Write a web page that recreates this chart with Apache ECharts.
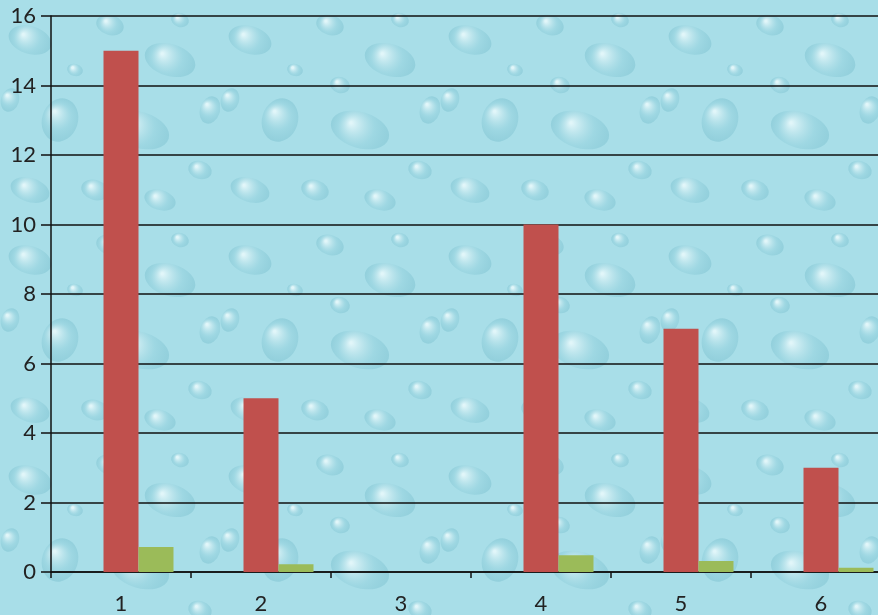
<!DOCTYPE html>
<html><head><meta charset="utf-8">
<script src="https://cdn.jsdelivr.net/npm/echarts@6/dist/echarts.min.js"></script>
<style>html,body{margin:0;padding:0;overflow:hidden;width:878px;height:615px;}#c{width:900px;height:615px;}</style>
</head><body><div id="c"></div>
<script>
const categories = ['1','2','3','4','5','6'];
const seriesBlue = [0,0,0,0,0,0];
const seriesRed = [15,5,0,10,7,3];
const seriesGreen = [0.72,0.22,0,0.48,0.32,0.12];
const yTicks = {min:0, max:16, interval:2};

// decorative water-drop texture
function makeTexture(){
  const cv = document.createElement('canvas');
  cv.width = 220; cv.height = 220;
  const g = cv.getContext('2d');
  g.fillStyle = '#a8dee8'; g.fillRect(0,0,220,220);
  const drops = [[30,40,22,14],[110,25,14,10],[170,60,26,16],[60,120,18,22],[140,130,30,18],[200,170,12,9],[30,190,20,12],[95,190,14,10],[180,20,9,7],[75,70,8,6],[120,85,10,8],[10,100,9,12],[160,200,16,10],[210,110,10,14]];
  drops.forEach(d=>{
    const [x,y,rx,ry]=d;
    const gr = g.createRadialGradient(x-rx*0.3,y-ry*0.4,1,x,y,Math.max(rx,ry));
    gr.addColorStop(0,'rgba(235,250,252,0.85)');
    gr.addColorStop(0.6,'rgba(150,210,222,0.55)');
    gr.addColorStop(1,'rgba(120,190,205,0.45)');
    g.fillStyle = gr;
    g.beginPath(); g.ellipse(x,y,rx,ry,0.3,0,Math.PI*2); g.fill();
  });
  return cv;
}

const chart = echarts.init(document.getElementById('c'));
chart.setOption({
  backgroundColor: {image: makeTexture(), repeat: 'repeat'},
  animation: false,
  grid: {left: 51, top: 16, right: 9, bottom: 39.5},
  xAxis: {
    type: 'category', data: categories,
    axisLine: {lineStyle: {color: '#111', width: 1.5}},
    axisTick: {show: true, alignWithLabel: false, length: 6, lineStyle: {color: '#111', width: 1.5}},
    axisLabel: {color: '#222', fontSize: 22, fontFamily: 'Lato', margin: 21}
  },
  yAxis: {
    type: 'value', min: yTicks.min, max: yTicks.max, interval: yTicks.interval,
    axisLine: {show: true, lineStyle: {color: '#111', width: 1.5}},
    axisTick: {show: true, length: 10, lineStyle: {color: '#111', width: 1.5}},
    splitLine: {lineStyle: {color: '#111', width: 1.5}},
    axisLabel: {color: '#222', fontSize: 22, fontFamily: 'Lato', margin: 15}
  },
  series: [
    {type: 'bar', data: seriesBlue, barGap: '0%', barCategoryGap: '25%', itemStyle: {color: '#4F81BD'}},
    {type: 'bar', data: seriesRed, barGap: '0%', barCategoryGap: '25%', itemStyle: {color: '#C0504D'}},
    {type: 'bar', data: seriesGreen, barGap: '0%', barCategoryGap: '25%', itemStyle: {color: '#9BBB59'}}
  ]
});
</script></body></html>
